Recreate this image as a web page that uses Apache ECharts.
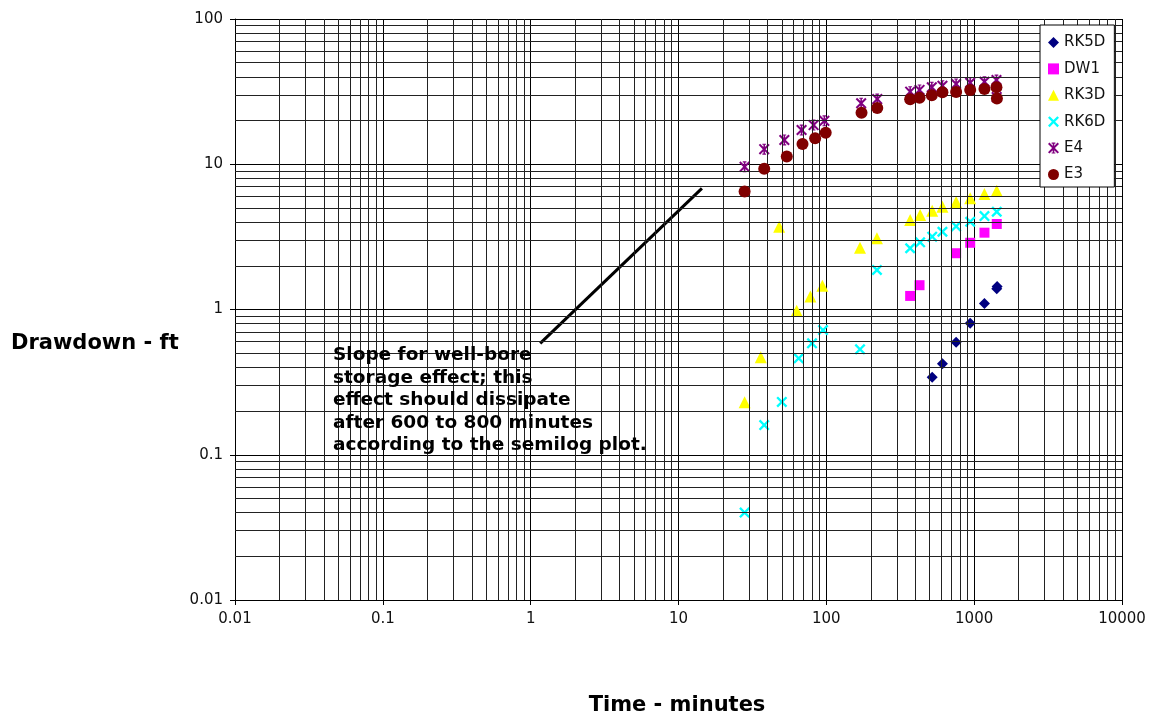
<!DOCTYPE html>
<html>
<head>
<meta charset="utf-8">
<script src="https://cdn.jsdelivr.net/npm/echarts@6/dist/echarts.min.js"></script>
<style>
  html, body { margin: 0; padding: 0; background: #fff; }
  #chart_drawdown { width: 1149px; height: 716px; }
</style>
</head>
<body>
<div id="chart_drawdown"></div>
<script>
// values (time in minutes, drawdown in ft)
var rk5dTime = [520, 610, 755, 940, 1174, 1422, 1430];
var rk5dDrawdown = [0.341, 0.424, 0.595, 0.804, 1.10, 1.39, 1.44];

var dw1Time = [369, 427, 755, 940, 1174, 1422];
var dw1Drawdown = [1.24, 1.47, 2.44, 2.88, 3.38, 3.88];

var rk3dTime = [28, 36, 48, 63, 78, 94, 169, 220, 369, 431, 520, 610, 755, 940, 1174, 1422];
var rk3dDrawdown = [0.23, 0.47, 3.72, 0.98, 1.23, 1.46, 2.66, 3.09, 4.13, 4.47, 4.79, 5.10, 5.50, 5.83, 6.24, 6.58];

var rk6dTime = [28, 38, 50, 65, 80, 95, 169, 220, 369, 431, 520, 610, 755, 940, 1174, 1422];
var rk6dDrawdown = [0.040, 0.160, 0.231, 0.461, 0.585, 0.722, 0.532, 1.87, 2.64, 2.90, 3.17, 3.43, 3.74, 4.02, 4.40, 4.71];

var e4Time = [28, 38, 52, 68, 82, 97, 172, 221, 369, 427, 517, 610, 755, 940, 1174, 1415, 1420];
var e4Drawdown = [9.6, 12.7, 14.7, 17.2, 18.6, 19.9, 26.3, 28.1, 31.6, 32.5, 33.9, 34.7, 35.7, 36.4, 37.0, 38.0, 29.0];

var e3Time = [28, 38, 54, 69, 84, 99, 173, 221, 369, 427, 517, 610, 755, 940, 1174, 1415, 1425];
var e3Drawdown = [6.5, 9.3, 11.3, 13.8, 15.1, 16.5, 22.6, 24.4, 28.0, 28.7, 29.8, 31.3, 31.4, 32.5, 33.0, 33.9, 28.4];

// hand drawn slope line (well-bore storage)
var slopeTime = [1.16, 14.4];
var slopeDrawdown = [0.585, 6.83];

var seriesNames = ['RK5D', 'DW1', 'RK3D', 'RK6D', 'E4', 'E3'];
var note = 'Slope for well-bore\nstorage effect; this\neffect should dissipate\nafter 600 to 800 minutes\naccording to the semilog plot.';

function zip(xs, ys) {
  var out = [];
  for (var i = 0; i < xs.length; i++) out.push([xs[i], ys[i]]);
  return out;
}

// minor gridlines at 2..9 of every decade
function minorLines(lo, hi, key) {
  var res = [];
  for (var d = lo; d < hi; d *= 10) {
    for (var m = 2; m <= 9; m++) {
      var o = {};
      o[key] = +(d * m).toPrecision(3);
      res.push(o);
    }
  }
  return res;
}

var crossPath = 'path://M0,1.5 L1.5,0 L5,3.5 L8.5,0 L10,1.5 L6.5,5 L10,8.5 L8.5,10 L5,6.5 L1.5,10 L0,8.5 L3.5,5 Z';
var starPath = 'path://M0,1.3 L1.3,0 L5,3.7 L8.7,0 L10,1.3 L6.3,5 L10,8.7 L8.7,10 L5,6.3 L1.3,10 L0,8.7 L3.7,5 Z M4.3,0 L5.7,0 L5.7,10 L4.3,10 Z M3.3,0 L6.7,0 L6.7,1 L3.3,1 Z M3.3,9 L6.7,9 L6.7,10 L3.3,10 Z';

var myChart = echarts.init(document.getElementById('chart_drawdown'));

var labelFmt = function (v) { return String(parseFloat(v.toPrecision(6))); };

var option = {
  animation: false,
  backgroundColor: '#fff',
  textStyle: { fontFamily: 'DejaVu Sans' },
  grid: { left: 235, right: 27, top: 19, bottom: 116 },
  xAxis: {
    type: 'log',
    logBase: 10,
    min: 0.01,
    max: 10000,
    axisLine: { show: true, lineStyle: { color: '#000', width: 1 } },
    axisTick: { show: true, length: 5, lineStyle: { color: '#000' } },
    axisLabel: { color: '#111', fontSize: 15, margin: 12, formatter: labelFmt },
    splitLine: { show: true, lineStyle: { color: '#000', width: 1 } }
  },
  yAxis: {
    type: 'log',
    logBase: 10,
    min: 0.01,
    max: 100,
    axisLine: { show: true, lineStyle: { color: '#000', width: 1 } },
    axisTick: { show: true, length: 5, lineStyle: { color: '#000' } },
    axisLabel: { color: '#111', fontSize: 15, margin: 12, formatter: labelFmt },
    splitLine: { show: true, lineStyle: { color: '#000', width: 1 } }
  },
  legend: {
    data: seriesNames,
    orient: 'vertical',
    left: 1040,
    top: 25,
    z: 20,
    backgroundColor: '#fff',
    borderColor: '#000',
    borderWidth: 1,
    borderRadius: 0,
    padding: [10, 9, 5, 8],
    itemWidth: 11,
    itemHeight: 11,
    itemGap: 11.4,
    textStyle: { fontSize: 15, color: '#111', fontFamily: 'DejaVu Sans' }
  },
  graphic: [
    {
      type: 'text', left: 333, top: 344, z: 10,
      style: { text: note, font: 'bold 18.5px "DejaVu Sans"', fill: '#000', lineHeight: 22.5 }
    },
    {
      type: 'text', left: 11, top: 333,
      style: { text: 'Drawdown - ft', font: 'bold 21px "DejaVu Sans"', fill: '#000' }
    },
    {
      type: 'text', x: 677, y: 706,
      style: { text: 'Time - minutes', font: 'bold 21px "DejaVu Sans"', fill: '#000', align: 'center', verticalAlign: 'middle' }
    }
  ],
  series: [
    {
      name: 'slope',
      type: 'line',
      data: zip(slopeTime, slopeDrawdown),
      symbol: 'none',
      lineStyle: { color: '#000', width: 3 },
      z: 3,
      markLine: {
        silent: true,
        symbol: 'none',
        animation: false,
        label: { show: false },
        lineStyle: { color: '#222', width: 1, type: 'solid' },
        emphasis: { disabled: true },
        data: minorLines(0.01, 10000, 'xAxis').concat(minorLines(0.01, 100, 'yAxis'))
      }
    },
    {
      name: 'RK5D', type: 'scatter', data: zip(rk5dTime, rk5dDrawdown),
      symbol: 'diamond', symbolSize: 11, z: 4,
      itemStyle: { color: '#000080', opacity: 1 }
    },
    {
      name: 'DW1', type: 'scatter', data: zip(dw1Time, dw1Drawdown),
      symbol: 'rect', symbolSize: 10, z: 4,
      itemStyle: { color: '#FF00FF', opacity: 1 }
    },
    {
      name: 'RK3D', type: 'scatter', data: zip(rk3dTime, rk3dDrawdown),
      symbol: 'triangle', symbolSize: 12, z: 4,
      itemStyle: { color: '#FFFF00', opacity: 1 }
    },
    {
      name: 'RK6D', type: 'scatter', data: zip(rk6dTime, rk6dDrawdown),
      symbol: crossPath, symbolSize: 11, z: 4,
      itemStyle: { color: '#00FFFF', opacity: 1 }
    },
    {
      name: 'E4', type: 'scatter', data: zip(e4Time, e4Drawdown),
      symbol: starPath, symbolSize: 11, z: 4,
      itemStyle: { color: '#800080', opacity: 1 }
    },
    {
      name: 'E3', type: 'scatter', data: zip(e3Time, e3Drawdown),
      symbol: 'circle', symbolSize: 12, z: 5,
      itemStyle: { color: '#800000', opacity: 1 }
    }
  ]
};

myChart.setOption(option);
window.addEventListener('resize', function () {
  myChart.resize();
});
</script>
</body>
</html>
